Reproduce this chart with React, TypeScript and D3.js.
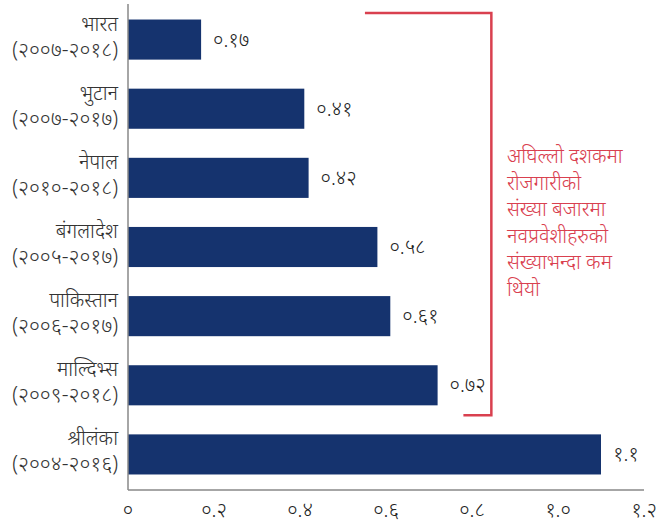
import React from "react";
import * as d3 from "d3";

const countries = ["भारत", "भुटान", "नेपाल", "बंगलादेश", "पाकिस्तान", "माल्दिभ्स", "श्रीलंका"];
const periods = ["(२००७-२०१८)", "(२००७-२०१७)", "(२०१०-२०१८)", "(२००५-२०१७)", "(२००६-२०१७)", "(२००९-२०१८)", "(२००४-२०१६)"];
const values = [0.17, 0.41, 0.42, 0.58, 0.61, 0.72, 1.1];
const valueLabels = ["०.१७", "०.४१", "०.४२", "०.५८", "०.६१", "०.७२", "१.१"];
const tickValues = [0, 0.2, 0.4, 0.6, 0.8, 1.0, 1.2];
const tickLabels = ["०", "०.२", "०.४", "०.६", "०.८", "१.०", "१.२"];
const noteLines = ["अघिल्लो दशकमा", "रोजगारीको", "संख्या बजारमा", "नवप्रवेशीहरुको", "संख्याभन्दा कम", "थियो"];

const W = 657;
const H = 523;
const FONT = "'Noto Sans', 'Noto Sans Devanagari', sans-serif";

export default function App() {
  const x = d3.scaleLinear().domain([0, 1.2]).range([128, 644]);
  const y = d3.scaleBand<string>().domain(countries).range([5, 489]).paddingInner(0.42).paddingOuter(0.21);
  const bw = y.bandwidth();
  const red = "#d9404f";

  const bx0 = x(0.551);
  const bx1 = x(0.845);
  const bxb = x(0.78);
  const byTop = 13;
  const byBot = (y("माल्दिभ्स") as number) + bw + 10;

  return (
    <svg width={W} height={H} style={{ position: "absolute", left: 0, top: 0, background: "#fff" }} fontFamily={FONT} fontWeight={300}>
      {countries.map((c, i) => {
        const y0 = y(c) as number;
        const cy = y0 + bw / 2;
        return (
          <g key={c}>
            <rect x={x(0)} y={y0} width={x(values[i]) - x(0)} height={bw} fill="#15336e" />
            <text x={x(values[i]) + 12} y={cy + 7} fontSize={20} fill="#222">{valueLabels[i]}</text>
            <text x={118} y={cy - 9} fontSize={20} fill="#333" textAnchor="end">{c}</text>
            <text x={118} y={cy + 17} fontSize={21} fill="#333" textAnchor="end">{periods[i]}</text>
          </g>
        );
      })}
      <line x1={x(0)} x2={x(0)} y1={4} y2={490} stroke="#888" strokeWidth={1.5} />
      <line x1={x(0)} x2={x(1.2)} y1={490} y2={490} stroke="#888" strokeWidth={1.5} />
      {tickValues.map((t, i) => (
        <text key={t} x={x(t)} y={517} fontSize={20} fill="#222" textAnchor="middle">{tickLabels[i]}</text>
      ))}
      <path d={`M${bx0},${byTop}H${bx1}V${byBot}H${bxb}`} fill="none" stroke={red} strokeWidth={2.5} />
      {noteLines.map((l, i) => (
        <text key={i} x={507} y={163 + i * 26.5} fontSize={20} fill={red}>{l}</text>
      ))}
    </svg>
  );
}
